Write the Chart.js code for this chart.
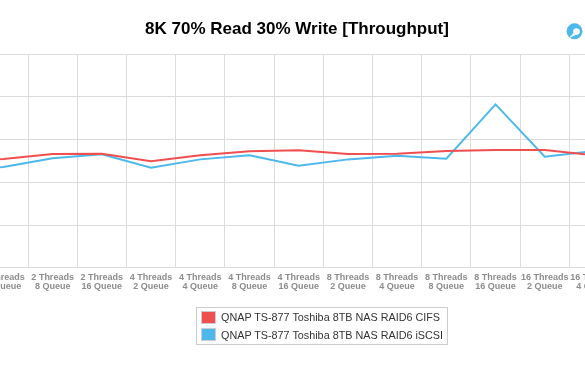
<!DOCTYPE html>
<html>
<head>
<meta charset="utf-8">
<script src="https://cdn.jsdelivr.net/npm/chart.js@4.4.1/dist/chart.umd.min.js"></script>
<style>
html,body{margin:0;padding:0;background:#fff;}
#wrap{position:relative;width:585px;height:368px;overflow:hidden;background:#fff;}
#c{position:absolute;left:-123px;top:0;}
#legend{position:absolute;left:196px;top:307px;width:252px;height:38px;box-sizing:border-box;border:1px solid #cccccc;}
.sw{position:absolute;width:13px;height:11px;border:1px solid #cccccc;}
.lbl{position:absolute;font:10.8px 'Liberation Sans',Arial,Helvetica,sans-serif;line-height:13px;color:#333;white-space:nowrap;}
#icon{position:absolute;left:564px;top:21px;}
</style>
</head>
<body>
<div id="wrap">
  <canvas id="c" width="845" height="368"></canvas>
  <div id="legend"></div>
  <svg id="icon" width="22" height="22" viewBox="0 0 22 22">
    <circle cx="10.5" cy="10.3" r="8" fill="#4db8ec"/>
    <circle cx="12.5" cy="10.6" r="3.3" fill="#fff"/>
    <polygon points="4.5,17.5 9.5,12 11.5,14" fill="#fff"/>
  </svg>
</div>
<script>
const TITLE = '8K 70% Read 30% Write [Throughput]';
const categories = [
  ['2 Threads','2 Queue'], ['2 Threads','4 Queue'], ['2 Threads','8 Queue'], ['2 Threads','16 Queue'],
  ['4 Threads','2 Queue'], ['4 Threads','4 Queue'], ['4 Threads','8 Queue'], ['4 Threads','16 Queue'],
  ['8 Threads','2 Queue'], ['8 Threads','4 Queue'], ['8 Threads','8 Queue'], ['8 Threads','16 Queue'],
  ['16 Threads','2 Queue'], ['16 Threads','4 Queue'], ['16 Threads','8 Queue'], ['16 Threads','16 Queue']
];
const seriesNames = ['QNAP TS-877 Toshiba 8TB NAS RAID6 CIFS', 'QNAP TS-877 Toshiba 8TB NAS RAID6 iSCSI'];
const cifsValues  = [125.0, 127.4, 133.1, 133.5, 124.6, 131.6, 136.3, 137.5, 133.1, 133.5, 136.7, 137.8, 137.8, 131.6, 132.0, 133.0];
const iscsiValues = [115.0, 117.9, 128.1, 132.8, 117.1, 126.9, 131.6, 119.4, 126.9, 131.1, 127.6, 191.3, 130.0, 136.7, 134.0, 135.0];
const yMin = 0, yMax = 250, yStep = 50;
const seriesColors = ['#ef4f4f', '#4db8ec'];

const FAMILY = "'Liberation Sans', Arial, Helvetica, sans-serif";
const GRID = '#dcdcdc';

const chart = new Chart(document.getElementById('c'), {
  type: 'line',
  data: {
    labels: categories,
    datasets: [
      { label: seriesNames[0], data: cifsValues, borderColor: seriesColors[0], backgroundColor: seriesColors[0] },
      { label: seriesNames[1], data: iscsiValues, borderColor: seriesColors[1], backgroundColor: seriesColors[1] }
    ]
  },
  options: {
    responsive: false,
    animation: false,
    devicePixelRatio: 1,
    layout: { padding: { left: 0, right: 5, top: 0, bottom: 0 } },
    elements: {
      point: { radius: 0, hoverRadius: 0 },
      line: { tension: 0, borderWidth: 2, fill: false }
    },
    plugins: {
      legend: { display: false },
      tooltip: { enabled: false },
      title: {
        display: true, text: TITLE, color: '#000',
        font: { family: FAMILY, size: 17, weight: 'bold', lineHeight: 1.2 },
        padding: { top: 19.3, bottom: 14.6 }
      }
    },
    scales: {
      x: {
        offset: true,
        grid: { offset: true, color: GRID, lineWidth: 1, drawTicks: false },
        border: { color: GRID },
        ticks: {
          autoSkip: false, maxRotation: 0, minRotation: 0, padding: 5,
          color: '#8c8c8c',
          font: { family: FAMILY, size: 9, weight: 'bold', lineHeight: 1.05 }
        },
        afterFit(s) { s.height = 100.3; }
      },
      y: {
        min: yMin, max: yMax,
        grid: { color: GRID, lineWidth: 1, drawTicks: false },
        border: { color: GRID },
        ticks: { stepSize: yStep, color: '#8c8c8c', font: { family: FAMILY, size: 9, weight: 'bold' } },
        afterFit(s) { s.width = 52.6; }
      }
    }
  }
});

// HTML legend built from the chart's datasets
const wrap = document.getElementById('wrap');
chart.data.datasets.forEach((ds, i) => {
  const sw = document.createElement('div');
  sw.className = 'sw';
  sw.style.left = '201px';
  sw.style.top = (311 + i * 17) + 'px';
  sw.style.background = ds.borderColor;
  wrap.appendChild(sw);
  const lb = document.createElement('div');
  lb.className = 'lbl';
  lb.style.left = '221px';
  lb.style.top = (311 + i * 17.5) + 'px';
  lb.textContent = ds.label;
  wrap.appendChild(lb);
});
</script>
</body>
</html>
